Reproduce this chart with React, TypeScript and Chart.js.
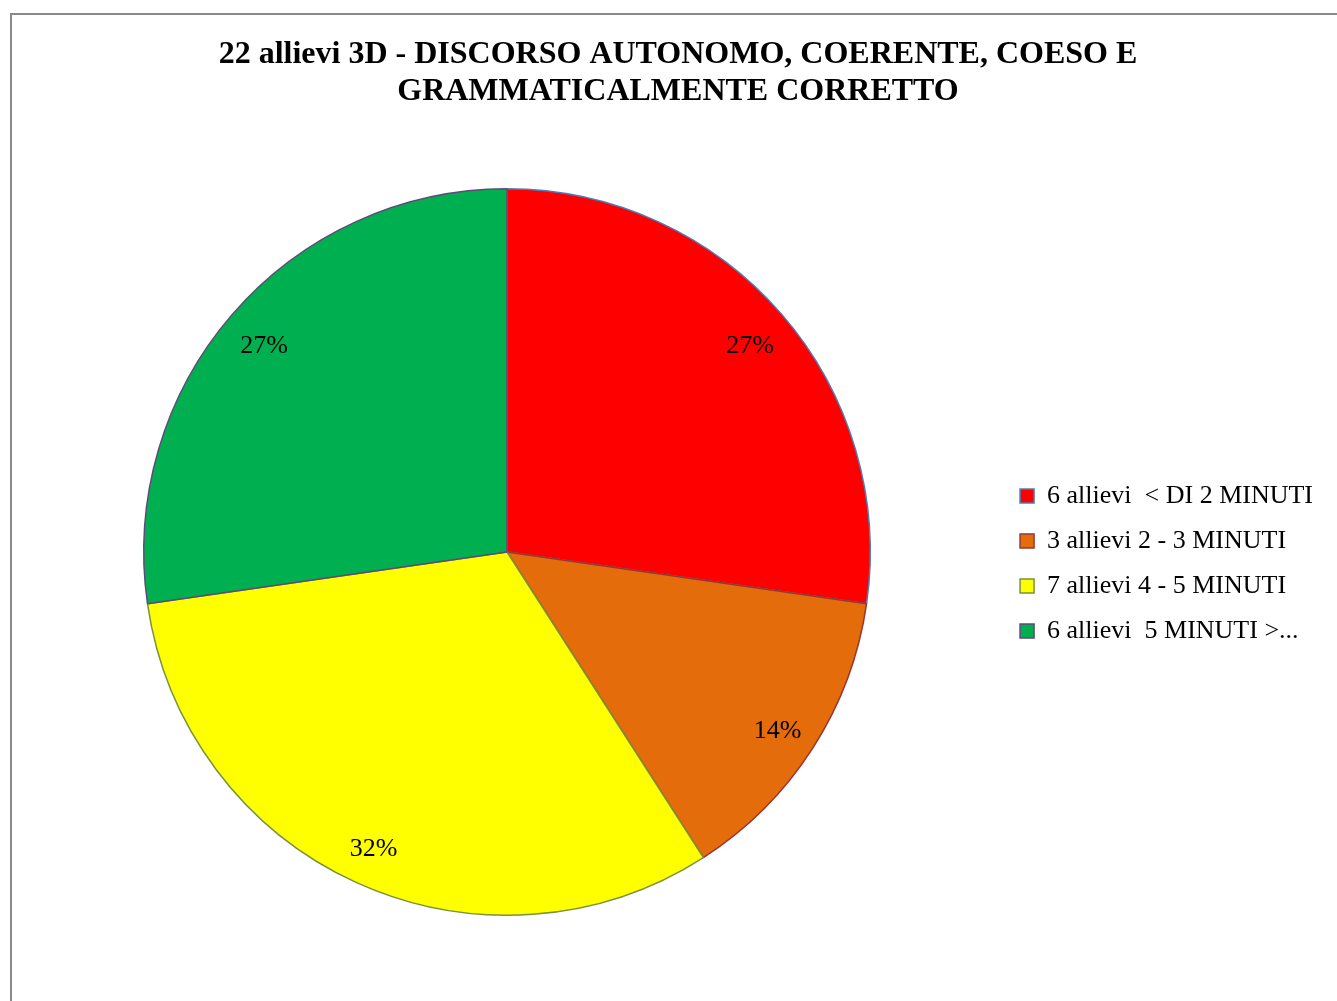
import React, { useEffect, useRef } from "react";
import { Chart, registerables } from "chart.js";

Chart.register(...registerables);

const titleLines = [
  "22 allievi 3D - DISCORSO AUTONOMO, COERENTE, COESO E",
  "GRAMMATICALMENTE CORRETTO",
];
const categories = [
  "6 allievi  < DI 2 MINUTI",
  "3 allievi 2 - 3 MINUTI",
  "7 allievi 4 - 5 MINUTI",
  "6 allievi  5 MINUTI >...",
];
const counts = [6, 3, 7, 6];
const fillColors = ["#FF0000", "#E46C0A", "#FFFF00", "#00B050"];
const edgeColors = ["#4A7EBB", "#953735", "#77933C", "#5F497A"];

const FONT = "'Liberation Serif', 'Times New Roman', serif";

const pctLabels = {
  id: "pctLabels",
  afterDatasetsDraw(chart: any) {
    const meta = chart.getDatasetMeta(0);
    const data = chart.data.datasets[0].data as number[];
    const total = data.reduce((a, b) => a + b, 0);
    const ctx = chart.ctx;
    ctx.save();
    ctx.font = `26px ${FONT}`;
    ctx.fillStyle = "#000";
    ctx.textAlign = "center";
    ctx.textBaseline = "middle";
    meta.data.forEach((arc: any, i: number) => {
      const { x, y, startAngle, endAngle, outerRadius } = arc.getProps(
        ["x", "y", "startAngle", "endAngle", "outerRadius"],
        true
      );
      const mid = (startAngle + endAngle) / 2;
      const r = outerRadius * 0.885;
      const txt = Math.round((data[i] / total) * 100) + "%";
      ctx.fillText(txt, x + Math.cos(mid) * r, y + Math.sin(mid) * r + 5);
    });
    ctx.restore();
  },
};

const titleShift = {
  id: "titleShift",
  afterLayout(chart: any) {
    const t = chart.titleBlock;
    if (t) {
      t.left += 20;
    }
  },
};

export default function App() {
  const ref = useRef<HTMLCanvasElement | null>(null);
  useEffect(() => {
    if (!ref.current) return;
    const chart = new Chart(ref.current, {
      type: "pie",
      data: {
        labels: categories,
        datasets: [
          {
            data: counts,
            backgroundColor: fillColors,
            borderColor: edgeColors,
            borderWidth: 1.5,
          },
        ],
      },
      plugins: [pctLabels, titleShift],
      options: {
        responsive: false,
        animation: false,
        layout: { padding: { left: 13, right: 14, top: 0, bottom: 85 } },
        plugins: {
          tooltip: { enabled: false },
          title: {
            display: true,
            text: titleLines,
            color: "#000",
            font: { family: FONT, size: 32, weight: "bold", lineHeight: 37 / 32 },
            padding: { top: 36, bottom: 78 },
          },
          legend: {
            position: "right",
            fullSize: false,
            align: "center",
            title: {
              display: true,
              text: " ",
              font: { size: 10, lineHeight: 1 },
              padding: { top: 6.5, bottom: 6.5 },
            },
            labels: {
              color: "#000",
              font: { family: FONT, size: 26 },
              boxWidth: 14,
              boxHeight: 14,
              padding: 19,
            },
          },
        },
      },
    });
    return () => chart.destroy();
  }, []);
  return (
    <div
      style={{
        position: "fixed",
        left: 0,
        top: 0,
        width: 1337,
        height: 1001,
        overflow: "hidden",
        background: "#fff",
      }}
    >
      <div
        style={{
          position: "absolute",
          left: 10,
          top: 13,
          width: 1400,
          height: 1100,
          border: "2px solid #898989",
          boxSizing: "border-box",
        }}
      />
      <canvas
        ref={ref}
        width={1337}
        height={1001}
        style={{ position: "absolute", left: 0, top: 0, width: 1337, height: 1001 }}
      />
    </div>
  );
}
